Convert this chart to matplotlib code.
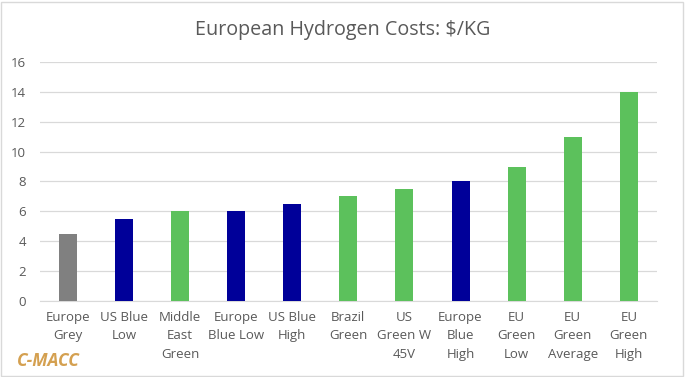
import matplotlib
matplotlib.use("Agg")
from matplotlib import pyplot as plt
from matplotlib.patches import Rectangle

categories = ["Europe\nGrey", "US Blue\nLow", "Middle\nEast\nGreen", "Europe\nBlue Low",
              "US Blue\nHigh", "Brazil\nGreen", "US\nGreen W\n45V", "Europe\nBlue\nHigh",
              "EU\nGreen\nLow", "EU\nGreen\nAverage", "EU\nGreen\nHigh"]
costs = [4.5, 5.5, 6, 6, 6.5, 7, 7.5, 8, 9, 11, 14]
kinds = ["grey", "blue", "green", "blue", "blue", "green", "green", "blue", "green", "green", "green"]
yticks = [0, 2, 4, 6, 8, 10, 12, 14, 16]

palette = {"grey": "#808080", "blue": "#000099", "green": "#5CC15C"}

plt.rcParams['font.family'] = ['Open Sans', 'DejaVu Sans']

fig = plt.figure(figsize=(6.85, 3.77), dpi=100)
ax = fig.add_axes([0.058, 0.2016, 0.901, 0.634])

x = list(range(len(categories)))
ax.bar(x, costs, width=0.32, color=[palette[k] for k in kinds], zorder=3)

ax.set_xlim(-0.5, len(categories) - 0.5)
ax.set_ylim(0, 16)
ax.set_yticks(yticks)
ax.set_yticklabels([str(t) for t in yticks], color="#595959", fontsize=9.5)
ax.set_xticks(x)
ax.set_xticklabels(categories, color="#595959", fontsize=9.5, linespacing=1.55, va="top")
ax.tick_params(axis="both", length=0, pad=7)
ax.tick_params(axis="y", pad=10)
ax.grid(axis="y", color="#D9D9D9", linewidth=0.9, zorder=0)
for side in ["top", "right", "left"]:
    ax.spines[side].set_visible(False)
ax.spines["bottom"].set_color("#D9D9D9")

fig.text(0.5, 0.92, "European Hydrogen Costs: $/KG", ha="center", va="center",
         fontsize=14.2, color="#595959")
fig.text(0.025, 0.043, "C-MACC", ha="left", va="center", fontsize=12.5,
         fontweight="bold", fontstyle="italic", color="#D4A050")

fig.patches.append(Rectangle((0.002, 0.003), 0.995, 0.993, transform=fig.transFigure,
                             fill=False, edgecolor="#D9D9D9", linewidth=1))

fig.savefig("out.png", dpi=100)
